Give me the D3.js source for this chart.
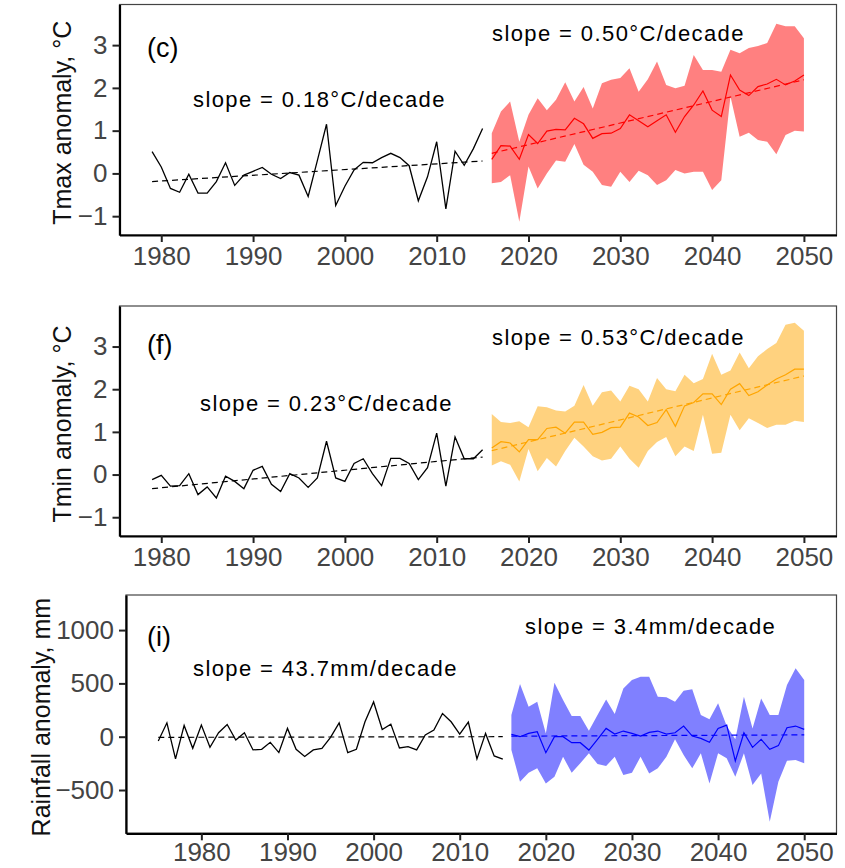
<!DOCTYPE html>
<html>
<head>
<meta charset="utf-8">
<script src="https://cdn.jsdelivr.net/npm/d3@7"></script>
<style>
  body { margin: 0; background: #fff; }
  text { font-family: "Liberation Sans", Arial, sans-serif; }
</style>
</head>
<body>
<svg id="chart" width="845" height="868"></svg>
<script>
// years
var histYears = d3.range(1979, 2016);
var rainYears = d3.range(1975, 2016);
var futYears = d3.range(2016, 2051);

// (c) Tmax
var tmaxObs = [0.51, 0.15, -0.35, -0.44, -0.02, -0.46, -0.46, -0.19, 0.25, -0.28, -0.04, 0.05, 0.14, -0.02, -0.12, 0.02, -0.04, -0.54, 0.30, 1.15, -0.75, -0.30, 0.08, 0.26, 0.25, 0.37, 0.47, 0.37, 0.18, -0.64, -0.08, 0.74, -0.83, 0.52, 0.19, 0.58, 1.05];
var tmaxMean = [0.33, 0.65, 0.64, 0.33, 0.91, 0.70, 0.99, 1.03, 1.02, 1.29, 1.16, 0.82, 0.93, 0.94, 1.05, 1.37, 1.23, 1.09, 1.23, 1.37, 0.96, 1.33, 1.60, 1.93, 1.48, 1.33, 2.30, 1.95, 1.82, 2.03, 2.09, 2.20, 2.07, 2.16, 2.30];
var tmaxHigh = [0.94, 1.45, 1.68, 0.74, 1.37, 1.76, 1.48, 1.72, 2.13, 1.68, 2.02, 1.52, 2.11, 2.19, 2.23, 2.46, 1.91, 2.20, 2.62, 2.07, 1.99, 2.05, 2.77, 2.42, 2.42, 2.38, 2.89, 2.81, 2.93, 2.98, 3.05, 3.50, 3.44, 3.44, 3.16];
var tmaxLow = [-0.23, -0.20, -0.04, -1.13, 0.16, -0.35, 0.00, 0.30, 0.27, 0.69, 0.20, 0.04, -0.27, -0.31, 0.04, -0.20, 0.06, -0.04, -0.27, -0.16, 0.08, 0.00, 0.04, 0.04, -0.39, -0.16, 1.80, 0.86, 0.95, 0.78, 0.74, 0.45, 0.90, 1.00, 0.98];
var tmaxObsTrend = [-0.19, 0.29];
var tmaxFutTrend = [0.47, 2.19];

// (f) Tmin
var tminObs = [-0.12, -0.02, -0.27, -0.26, 0.02, -0.47, -0.29, -0.55, -0.04, -0.16, -0.33, 0.10, 0.19, -0.23, -0.40, 0.02, -0.08, -0.30, -0.08, 0.78, -0.08, -0.16, 0.26, 0.37, 0.02, -0.26, 0.38, 0.38, 0.26, -0.12, 0.16, 0.97, -0.27, 0.88, 0.37, 0.37, 0.58];
var tminMean = [0.62, 0.77, 0.74, 0.53, 0.82, 0.82, 1.08, 1.11, 0.97, 1.23, 1.23, 0.94, 0.99, 1.10, 1.11, 1.44, 1.35, 1.15, 1.22, 1.52, 1.13, 1.61, 1.69, 1.89, 1.89, 1.64, 2.00, 2.13, 1.85, 1.94, 2.10, 2.24, 2.34, 2.47, 2.47];
var tminHigh = [1.42, 1.23, 1.21, 1.25, 1.11, 1.60, 1.58, 1.50, 1.48, 1.61, 2.10, 1.61, 1.93, 1.97, 1.71, 2.08, 2.00, 1.71, 2.26, 2.00, 1.95, 2.34, 2.14, 2.24, 2.83, 2.34, 2.44, 2.86, 2.49, 2.77, 2.94, 3.08, 3.51, 3.56, 3.37];
var tminLow = [0.21, 0.31, 0.23, -0.16, 0.60, 0.08, 0.39, 0.19, 0.55, 0.86, 0.66, 0.43, 0.33, 0.37, 0.66, 0.37, 0.16, 0.55, 0.76, 0.88, 0.43, 0.66, 0.55, 1.40, 0.49, 0.51, 1.40, 1.04, 1.32, 1.21, 1.09, 1.17, 1.17, 1.26, 1.23];
var tminObsTrend = [-0.33, 0.41];
var tminFutTrend = [0.56, 2.31];

// (i) Rainfall
var rainObs = [-40, 130, -208, 106, -109, 109, -99, 37, 115, -31, 37, -124, -118, -53, -149, 78, -118, -186, -124, -109, -6, 130, -149, -118, 140, 326, 68, 118, -106, -93, -124, 16, 62, 217, 140, 25, 137, -208, 31, -180, -211];
var rainMean = [22, 0, 31, 47, -150, 0, 0, -56, -56, -125, -25, 78, 25, 53, 31, 6, 41, 53, 25, 37, 100, 6, -16, -53, 78, 109, -228, 37, -100, -25, -119, -84, 84, 100, 69];
var rainHigh = [203, 494, 281, 328, 31, 506, 344, 194, 194, 56, 203, 350, 213, 453, 531, 563, 563, 375, 369, 328, 431, 444, 203, 163, 313, 100, -25, 375, 78, 359, 203, 203, 484, 641, 531];
var rainLow = [-125, -422, -338, -297, -438, -375, -188, -338, -250, -156, -256, -275, -188, -359, -338, -188, -344, -297, -188, -25, -172, -297, -156, -438, -156, -203, -375, -156, -453, -344, -797, -422, -225, -219, -250];
var rainObsTrend = [-6, 0];
var rainFutTrend = [5, 17];

var xTicks = [1980, 1990, 2000, 2010, 2020, 2030, 2040, 2050];

var panels = [
  {
    tag: "(c)", title: "Tmax anomaly, °C",
    obsYears: histYears, obs: tmaxObs, obsTrend: tmaxObsTrend,
    mean: tmaxMean, low: tmaxLow, high: tmaxHigh, futTrend: tmaxFutTrend,
    obsLabel: "slope = 0.18°C/decade", futLabel: "slope = 0.50°C/decade",
    line: "#FF0000", fill: "#FF8080",
    xDomain: [1975.45, 2053.55], left: 119.5, right: 836.5,
    yDomain: [-1.44, 3.95], top: 4.5, bottom: 235, yTicks: [-1, 0, 1, 2, 3],
    tagPos: [147, 57], obsPos: [193, 107], futPos: [492, 41], titleX: 71, xPad: 5
  },
  {
    tag: "(f)", title: "Tmin anomaly, °C",
    obsYears: histYears, obs: tminObs, obsTrend: tminObsTrend,
    mean: tminMean, low: tminLow, high: tminHigh, futTrend: tminFutTrend,
    obsLabel: "slope = 0.23°C/decade", futLabel: "slope = 0.53°C/decade",
    line: "#FFA500", fill: "#FFD27F",
    xDomain: [1975.45, 2053.55], left: 119.5, right: 836.5,
    yDomain: [-1.44, 3.95], top: 306, bottom: 536, yTicks: [-1, 0, 1, 2, 3],
    tagPos: [147, 354], obsPos: [200, 411], futPos: [492, 345], titleX: 71, xPad: 5
  },
  {
    tag: "(i)", title: "Rainfall anomaly, mm",
    obsYears: rainYears, obs: rainObs, obsTrend: rainObsTrend,
    mean: rainMean, low: rainLow, high: rainHigh, futTrend: rainFutTrend,
    obsLabel: "slope = 43.7mm/decade", futLabel: "slope = 3.4mm/decade",
    line: "#0000FF", fill: "#8080FF",
    xDomain: [1971.25, 2053.75], left: 126, right: 836.5,
    yDomain: [-906, 1329], top: 595, bottom: 833.3, yTicks: [-500, 0, 500, 1000],
    tagPos: [147, 646], obsPos: [193, 676], futPos: [525, 634], titleX: 50, xPad: 2
  }
];

var svg = d3.select("#chart");

panels.forEach(function(p) {
  var x = d3.scaleLinear().domain(p.xDomain).range([p.left, p.right]);
  var y = d3.scaleLinear().domain(p.yDomain).range([p.bottom, p.top]);
  var g = svg.append("g");

  // panel border
  g.append("rect")
    .attr("x", p.left).attr("y", p.top)
    .attr("width", p.right - p.left).attr("height", p.bottom - p.top)
    .attr("fill", "none").attr("stroke", "#444").attr("stroke-width", 1.2);

  // projection band
  var band = futYears.map(function(yr, i) { return {yr: yr, lo: p.low[i], hi: p.high[i]}; });
  g.append("path")
    .datum(band)
    .attr("fill", p.fill)
    .attr("d", d3.area().x(function(d) { return x(d.yr); })
      .y0(function(d) { return y(d.lo); })
      .y1(function(d) { return y(d.hi); }));

  var line = d3.line().x(function(d) { return x(d[0]); }).y(function(d) { return y(d[1]); });

  // observed
  g.append("path")
    .datum(p.obsYears.map(function(yr, i) { return [yr, p.obs[i]]; }))
    .attr("fill", "none").attr("stroke", "#000").attr("stroke-width", 1.3)
    .attr("d", line);

  // projected mean
  g.append("path")
    .datum(futYears.map(function(yr, i) { return [yr, p.mean[i]]; }))
    .attr("fill", "none").attr("stroke", p.line).attr("stroke-width", 1.2)
    .attr("d", line);

  // trends
  var o0 = p.obsYears[0], o1 = p.obsYears[p.obsYears.length - 1];
  g.append("path")
    .datum([[o0, p.obsTrend[0]], [o1, p.obsTrend[1]]])
    .attr("fill", "none").attr("stroke", "#000").attr("stroke-width", 1.2)
    .attr("stroke-dasharray", "6,4")
    .attr("d", line);
  g.append("path")
    .datum([[futYears[0], p.futTrend[0]], [futYears[futYears.length - 1], p.futTrend[1]]])
    .attr("fill", "none").attr("stroke", p.line).attr("stroke-width", 1.2)
    .attr("stroke-dasharray", "6,4")
    .attr("d", line);

  // axes
  var xa = g.append("g")
    .attr("transform", "translate(0," + p.bottom + ")")
    .call(d3.axisBottom(x).tickValues(xTicks).tickFormat(d3.format("d"))
      .tickSize(7).tickSizeOuter(0).tickPadding(p.xPad));
  var ya = g.append("g")
    .attr("transform", "translate(" + p.left + ",0)")
    .call(d3.axisLeft(y).tickValues(p.yTicks).tickFormat(d3.format("d"))
      .tickSize(7).tickSizeOuter(0).tickPadding(5));
  [xa, ya].forEach(function(a) {
    a.select(".domain").attr("stroke", "#000").attr("stroke-width", 2.2);
    a.selectAll(".tick line").attr("stroke", "#222").attr("stroke-width", 2);
    a.selectAll(".tick text")
      .attr("fill", "#444")
      .style("font-size", "26px")
      .style("font-family", "'Liberation Sans', Arial, sans-serif");
  });

  // y title
  g.append("text")
    .attr("transform", "translate(" + p.titleX + "," + ((p.top + p.bottom) / 2 + 3) + ") rotate(-90)")
    .attr("text-anchor", "middle")
    .style("font-size", "25px")
    .attr("fill", "#111")
    .text(p.title);

  // annotations
  g.append("text").attr("x", p.tagPos[0]).attr("y", p.tagPos[1])
    .style("font-size", "27px").attr("fill", "#000").text(p.tag);
  [[p.obsPos, p.obsLabel], [p.futPos, p.futLabel]].forEach(function(t) {
    g.append("text").attr("x", t[0][0]).attr("y", t[0][1])
      .style("font-size", "22px").style("letter-spacing", "1.4px")
      .attr("fill", "#000").text(t[1]);
  });
});
</script>
</body>
</html>
